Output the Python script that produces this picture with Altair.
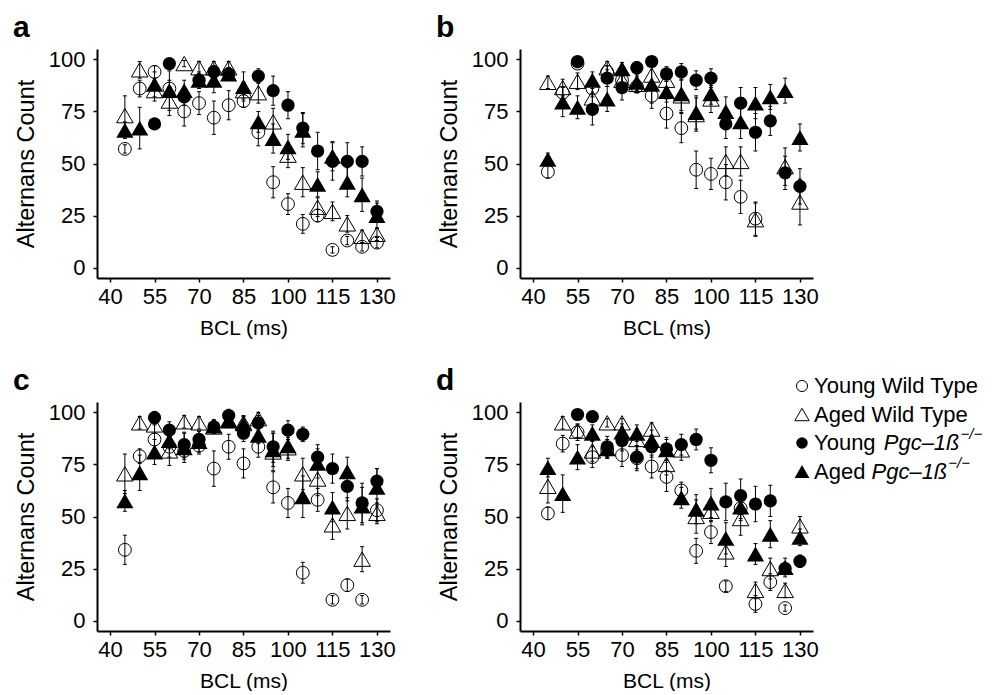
import altair as alt
import pandas as pd

# ---------------- data ----------------
bcl = [45, 50, 55, 60, 65, 70, 75, 80, 85, 90, 95, 100, 105, 110, 115, 120, 125, 130]
x_ticks = [40, 55, 70, 85, 100, 115, 130]
y_ticks = [0, 25, 50, 75, 100]
series_codes = ["ywt", "awt", "yp", "ap"]
legend_normal = ["Young Wild Type", "Aged Wild Type", "Young ", "Aged "]
legend_italic = ["", "", "Pgc\u20131\u00df", "Pgc\u20131\u00df"]
legend_sup = ["", "", "\u2212/\u2212", "\u2212/\u2212"]
panel_letters = ["a", "b", "c", "d"]
N = None

# panel a
a_ywt = [57, 86, 94, 86, 75, 79, 72, 78, 80, 65, 41, 30.5, 21, 25, 8.5, 13, 10, 12]
a_ywt_e = [2, 4, 3, 4, 7, 5.5, 8, 7, 3, 6.5, 7.5, 5, 4.5, 3, 1.5, 2, 2, 2.5]
a_awt = [73, 95, 85, 80, 98, 96, 96, 96, 85, 84, 70, 54, 41, 29, 27, 21, 15, 16]
a_awt_e = [9.5, 4, 5, 7, 1.5, 3, 3, 3, 4, 5, 6.5, 6, 7, 4.5, 4.5, 4, 3, 3]
a_yp = [N, N, 69, 98, 82, 90, 94, 93, N, 92, 85, 78, 67, 56, 51, 51, 51, 27]
a_yp_e = [0, 0, 1.5, 2, 4, 3, 3, 3, 0, 3.5, 7, 6.5, 7.5, 9, 9, 9, 7, 5]
a_ap = [66, 67, 88, 85, 85, 90, 90, 93, 87, 70, 62, 58, 66, 40, 53.5, 41, 35, 25]
a_ap_e = [4, 10, 6, 9.5, 5, 4, 6, 3, 7, 5, 7, 6, 8, 6, 7, 7, 8, 6]

# panel b
b_ywt = [46, 84, 98, 86, 94, 90, 87, 82.5, 74, 67, 47, 45, 41, 34, 23.5, N, N, N]
b_ywt_e = [3, 3, 2, 4, 3, 4, 3, 6, 7, 7, 9, 7.5, 8.5, 8, 8, 0, 0, 0]
b_awt = [89, 86.5, 89.5, 81.5, 96, 90, 88, 92.5, 90, 82.5, 73.5, 81, 51, 51, 23, N, 48.5, 31.5]
b_awt_e = [3, 4, 4, 6.5, 3, 4, 4, 4.5, 4, 8, 8, 6.5, 7, 7, 8, 0, 9, 11]
b_yp = [N, N, 99, 76, 91, 86.5, 96, 99, 93, 94, 90, 91, 69, 79, 65, 70.5, 45.5, 39]
b_yp_e = [0, 0, 2, 7.5, 4, 6, 3, 2, 3.5, 4, 4.5, 4.5, 7, 7.5, 9, 7, 8, 8.5]
b_ap = [52, 79.5, 77, 90, 81, 95.5, 89, 88, 84.5, 83.5, 74.5, 83.5, 75, 70, 79, 82, 85, 62.5]
b_ap_e = [3, 7, 5.5, 4, 6, 3, 4, 9, 5, 8, 8, 5, 7, 8, 7.5, 6, 6, 6.5]

# panel c
c_ywt = [34, 79, 87, 83.5, 81.5, 84, 73, 83.5, 75.5, 83.5, 64, 56.5, 23, 58, 10, 17, 10, 53]
c_ywt_e = [7, 3.5, 7, 5, 4, 4, 8.5, 6, 7, 5, 7.5, 7, 5, 5.5, 2, 3, 2, 5.5]
c_awt = [70.5, 95, 94, 81.5, 95.5, 95, 93, 96, 95, 97, 81, 83, 70.5, 68, 46, 51.5, 29.5, 51.5]
c_awt_e = [9.5, 3, 4, 7, 3, 3, 3, 3, 3, 3, 9, 5, 7.5, 8, 7, 7.5, 6, 5]
c_yp = [N, N, 97.5, 91.5, 84.5, 87, 93, 98.5, 90, 95, 83.5, 91.5, 89.5, 78.5, 73, 64.5, 56.5, 67]
c_yp_e = [0, 0, 3, 4, 6, 4, 3, 3, 4, 3.5, 7.5, 4.5, 3.5, 6, 7, 7, 9.5, 6]
c_ap = [57.5, 71, 81, 86.5, 83, 86, 93.5, 96, 94.5, 89, 82, 84, 59.5, 75.5, 54.5, 71.5, 55, 64]
c_ap_e = [5, 8.5, 6, 4, 7, 5, 3, 3, 4, 4, 8, 7, 10, 7, 7, 7, 9, 9]

# panel d
d_ywt = [51.5, 85, 90.5, 78.5, 82, 79.5, 78, 74, 69, 62.5, 33.5, 42.5, 16.5, 54, 8, 18.5, 6, N]
d_ywt_e = [3, 4, 4, 5, 4, 5.5, 6, 5.5, 7, 4, 6, 5.5, 2.5, 5, 4, 4, 1.5, 0]
d_awt = [64.5, 95, 91, 81.5, 95, 95, 87, 92, 75, 82, 50, 52.5, 33, 49, 14.5, 25, 14.5, 45.5]
d_awt_e = [8, 3, 3, 5, 2, 2, 5, 3, 5, 5, 8, 5, 7, 8, 4, 5, 3.5, 4.5]
d_yp = [N, N, 99, 98, 83.5, 86.5, 78.5, 83.5, 82.5, 84.5, 87, 77, 57, 60, 56, 57.5, 25, 28.5]
d_yp_e = [0, 0, 2, 2, 5, 5, 5.5, 5, 5.5, 5, 5, 6, 9, 8, 8.5, 7.5, 3, 3]
d_ap = [73.5, 61, 78.5, 90, 82.5, 90.5, 90, 86.5, 82, 59, 53.5, 56.5, 39.5, 54.5, 32, 41.5, 25.5, 40]
d_ap_e = [4.5, 9, 6, 4, 4.5, 4, 4, 5, 5, 5, 7, 7, 7.5, 6.5, 5, 6.5, 4.5, 4]

panels = {
    "a": [(a_ywt, a_ywt_e), (a_awt, a_awt_e), (a_yp, a_yp_e), (a_ap, a_ap_e)],
    "b": [(b_ywt, b_ywt_e), (b_awt, b_awt_e), (b_yp, b_yp_e), (b_ap, b_ap_e)],
    "c": [(c_ywt, c_ywt_e), (c_awt, c_awt_e), (c_yp, c_yp_e), (c_ap, c_ap_e)],
    "d": [(d_ywt, d_ywt_e), (d_awt, d_awt_e), (d_yp, d_yp_e), (d_ap, d_ap_e)],
}

rows = []
for p, lst in panels.items():
    for code, (vals, errs) in zip(series_codes, lst):
        for xv, v, e in zip(bcl, vals, errs):
            if v is None:
                continue
            rows.append({"panel": p, "series": code, "bcl": xv, "value": v,
                         "lo": v - e, "hi": v + e})
df = pd.DataFrame(rows)

# ---------------- style ----------------
FONT = "Liberation Sans"
W, H = 293, 229
XD = [35.6, 134.4]
YD = [-5, 105]
style = {
    "ywt": dict(shape="circle", filled=False, size=165),
    "awt": dict(shape="triangle-up", filled=False, size=275),
    "yp": dict(shape="circle", filled=True, size=175),
    "ap": dict(shape="triangle-up", filled=True, size=295),
}

xscale = alt.Scale(domain=XD, nice=False, zero=False)
yscale = alt.Scale(domain=YD, nice=False, zero=False)
xaxis = alt.Axis(values=x_ticks, title="BCL (ms)")
yaxis = alt.Axis(values=y_ticks, title="Alternans Count")

# character advance widths (per 1000 em) for the legend text layout
CW = {" ": 278, "A": 667, "Y": 667, "o": 556, "u": 556, "n": 556, "g": 556,
      "e": 556, "d": 556, "W": 944, "i": 222, "l": 222, "T": 611, "y": 500,
      "p": 556, "P": 667, "c": 500, "\u2013": 556, "1": 556, "\u00df": 611}


def twidth(s, fs):
    return sum(CW.get(ch, 556) for ch in s) * fs / 1000.0


def make_panel(letter, legend=False):
    d = df[df.panel == letter]
    X = alt.X("bcl:Q", scale=xscale, axis=xaxis)
    layers = []
    for code in series_codes:
        st = style[code]
        layers.append(
            alt.Chart(d[d.series == code]).mark_point(
                shape=st["shape"], filled=st["filled"], size=st["size"],
                color="black", strokeWidth=1, opacity=1
            ).encode(x=X, y=alt.Y("value:Q", scale=yscale, axis=yaxis))
        )
    layers.append(
        alt.Chart(d).mark_rule(color="black", strokeWidth=1).encode(
            x=X, y=alt.Y("lo:Q", scale=yscale, axis=yaxis), y2="hi:Q")
    )
    for f in ["lo", "hi"]:
        layers.append(
            alt.Chart(d).mark_tick(orient="horizontal", size=4, thickness=1,
                                   color="black", opacity=1).encode(
                x=X, y=alt.Y(f + ":Q", scale=yscale, axis=yaxis))
        )
    layers.append(
        alt.Chart(pd.DataFrame({"t": [letter]})).mark_text(
            font=FONT, fontSize=30, fontWeight="bold", align="left",
            baseline="alphabetic", color="black"
        ).encode(x=alt.value(-84), y=alt.value(-12.5), text="t:N")
    )
    if legend:
        fs = 22
        sym_x, txt_x, y0, dy = 282, 294, -16, 28.5
        for i, code in enumerate(series_codes):
            st = style[code]
            yy = y0 + i * dy
            layers.append(
                alt.Chart(pd.DataFrame({"k": [code]})).mark_point(
                    shape=st["shape"], filled=st["filled"],
                    size=st["size"] * 0.75, color="black", strokeWidth=1,
                    opacity=1
                ).encode(x=alt.value(sym_x), y=alt.value(yy))
            )
            layers.append(
                alt.Chart(pd.DataFrame({"t": [legend_normal[i]]})).mark_text(
                    font=FONT, fontSize=fs, align="left", baseline="middle",
                    color="black"
                ).encode(x=alt.value(txt_x), y=alt.value(yy), text="t:N")
            )
            if legend_italic[i]:
                ix = txt_x + twidth(legend_normal[i], fs)
                layers.append(
                    alt.Chart(pd.DataFrame({"t": [legend_italic[i]]})).mark_text(
                        font=FONT, fontSize=fs, fontStyle="italic", align="left",
                        baseline="middle", color="black"
                    ).encode(x=alt.value(ix), y=alt.value(yy), text="t:N")
                )
                sx = ix + twidth(legend_italic[i], fs) + 1
                layers.append(
                    alt.Chart(pd.DataFrame({"t": [legend_sup[i]]})).mark_text(
                        font=FONT, fontSize=15, fontStyle="italic", align="left",
                        baseline="middle", color="black"
                    ).encode(x=alt.value(sx), y=alt.value(yy - 9), text="t:N")
                )
    return alt.layer(*layers).properties(width=W, height=H)


pa = make_panel("a")
pb = make_panel("b")
pc = make_panel("c")
pd_ = make_panel("d", legend=True)

row1 = alt.hconcat(pa, pb, spacing=40)
row2 = alt.hconcat(pc, pd_, spacing=40)

chart = alt.vconcat(row1, row2, spacing=27).properties(
    padding={"left": 5, "top": 4, "right": 5, "bottom": 0},
    background="white",
).configure_view(stroke=None).configure_axis(
    domainColor="black", domainWidth=2, tickColor="black", tickWidth=1.5,
    tickSize=4, labelFont=FONT, labelFontSize=22, labelColor="black",
    titleFont=FONT, titleFontWeight="normal",
    titleColor="black", grid=False, labelFlush=False,
).configure_axisX(labelPadding=4, titlePadding=10, titleFontSize=21).configure_axisY(
    labelPadding=8, titlePadding=10, titleFontSize=23.5)

chart.save("out.html", embed_options={"renderer": "svg", "actions": False})
